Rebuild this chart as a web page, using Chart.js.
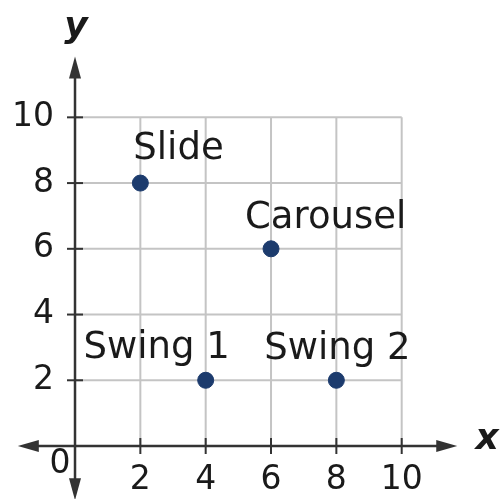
<!DOCTYPE html>
<html>
<head>
<meta charset="utf-8">
<script src="https://cdn.jsdelivr.net/npm/chart.js@4"></script>
<style>
html,body{margin:0;padding:0;background:#fff;}
#wrap{width:500px;height:499px;position:relative;}
</style>
</head>
<body>
<div id="wrap"><canvas id="c"></canvas></div>
<script>
// ---- data ----
const places = ['Slide', 'Swing 1', 'Carousel', 'Swing 2'];
const xValues = [2, 4, 6, 8];
const yValues = [8, 2, 6, 2];
const xTicks = [2, 4, 6, 8, 10];
const yTicks = [2, 4, 6, 8, 10];
const gridValues = [2, 4, 6, 8, 10];
const axisTitleX = 'x';
const axisTitleY = 'y';
const originLabel = '0';

// ---- styles ----
const FONT = '"DejaVu Sans", Verdana, sans-serif';
const AXIS_COLOR = '#333333';
const GRID_COLOR = '#c4c4c4';
const POINT_COLOR = '#1c3b6d';
const TEXT_COLOR = '#1a1a1a';
// label placement in pixels relative to point: [dx, dy, align]
const labelPlacement = {
  'Slide': [-7, -24, 'left'],
  'Swing 1': [24, -22, 'right'],
  'Carousel': [-26, -21, 'left'],
  'Swing 2': [1, -21, 'center']
};

const planePlugin = {
  id: 'plane',
  beforeDatasetsDraw(chart) {
    const ctx = chart.ctx;
    const xs = chart.scales.x, ys = chart.scales.y;
    const px = v => xs.getPixelForValue(v);
    const py = v => ys.getPixelForValue(v);
    ctx.save();
    // grid
    ctx.strokeStyle = GRID_COLOR;
    ctx.lineWidth = 2;
    gridValues.forEach(g => {
      ctx.beginPath(); ctx.moveTo(px(g), py(0)); ctx.lineTo(px(g), py(10)); ctx.stroke();
      ctx.beginPath(); ctx.moveTo(px(0), py(g)); ctx.lineTo(px(10), py(g)); ctx.stroke();
    });
    // axes
    ctx.strokeStyle = AXIS_COLOR;
    ctx.fillStyle = AXIS_COLOR;
    ctx.lineWidth = 2.5;
    const xl = px(-1.75), xr = px(11.7), yt = py(11.85), yb = py(-1.65);
    const ox = px(0), oy = py(0);
    ctx.beginPath(); ctx.moveTo(xl + 10, oy); ctx.lineTo(xr - 10, oy); ctx.stroke();
    ctx.beginPath(); ctx.moveTo(ox, yt + 10); ctx.lineTo(ox, yb - 10); ctx.stroke();
    const tri = (pts) => { ctx.beginPath(); ctx.moveTo(pts[0], pts[1]); ctx.lineTo(pts[2], pts[3]); ctx.lineTo(pts[4], pts[5]); ctx.closePath(); ctx.fill(); };
    tri([xl, oy, xl + 21, oy - 6, xl + 21, oy + 6]);
    tri([xr, oy, xr - 21, oy - 6, xr - 21, oy + 6]);
    tri([ox, yt, ox - 6, yt + 22, ox + 6, yt + 22]);
    tri([ox, yb, ox - 6, yb - 22, ox + 6, yb - 22]);
    // tick marks
    ctx.lineWidth = 2;
    xTicks.forEach(t => { ctx.beginPath(); ctx.moveTo(px(t), oy - 8); ctx.lineTo(px(t), oy + 8); ctx.stroke(); });
    yTicks.forEach(t => { ctx.beginPath(); ctx.moveTo(ox - 8, py(t)); ctx.lineTo(ox + 8, py(t)); ctx.stroke(); });
    // tick labels
    ctx.fillStyle = TEXT_COLOR;
    ctx.font = '33px ' + FONT;
    ctx.textAlign = 'right'; ctx.textBaseline = 'middle';
    yTicks.forEach(t => ctx.fillText(String(t), ox - 21, py(t)));
    ctx.textAlign = 'center'; ctx.textBaseline = 'middle';
    xTicks.forEach(t => ctx.fillText(String(t), px(t), oy + 34));
    ctx.font = '33px ' + FONT;
    ctx.fillText(originLabel, ox - 15, oy + 18);
    // axis titles
    ctx.font = 'italic bold 36px ' + FONT;
    ctx.textAlign = 'center'; ctx.textBaseline = 'middle';
    ctx.fillText(axisTitleX, 487, oy - 6);
    ctx.fillText(axisTitleY, ox + 1, 28);
    ctx.restore();
  },
  afterDatasetsDraw(chart) {
    const ctx = chart.ctx;
    const meta = chart.getDatasetMeta(0);
    ctx.save();
    ctx.fillStyle = TEXT_COLOR;
    ctx.font = '37px ' + FONT;
    ctx.textBaseline = 'alphabetic';
    meta.data.forEach((el, i) => {
      const name = places[i];
      const p = labelPlacement[name];
      ctx.textAlign = p[2];
      ctx.fillText(name, el.x + p[0], el.y + p[1]);
    });
    ctx.restore();
  }
};

new Chart(document.getElementById('c'), {
  type: 'scatter',
  data: {
    datasets: [{
      data: xValues.map((x, i) => ({ x: x, y: yValues[i] })),
      backgroundColor: POINT_COLOR,
      borderColor: POINT_COLOR,
      pointRadius: 8,
      pointHoverRadius: 8
    }]
  },
  options: {
    responsive: true,
    maintainAspectRatio: false,
    animation: false,
    layout: { padding: 0, autoPadding: false },
    plugins: { legend: { display: false }, tooltip: { enabled: false } },
    scales: {
      x: { type: 'linear', display: false, min: -2.296, max: 13.009 },
      y: { type: 'linear', display: false, min: -1.612, max: 13.57 }
    }
  },
  plugins: [planePlugin]
});
</script>
</body>
</html>
